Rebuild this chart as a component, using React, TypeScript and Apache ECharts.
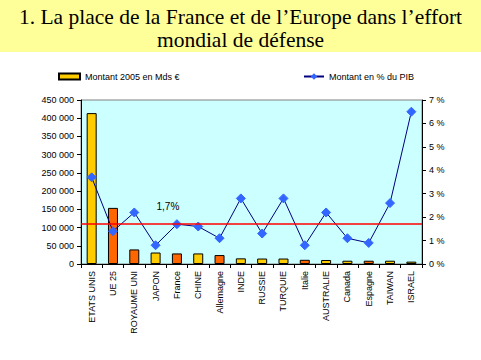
import React, { useEffect, useRef } from "react";
import * as echarts from "echarts";

const categories = [
  "ETATS UNIS", "UE 25", "ROYAUME UNI", "JAPON", "France", "CHINE", "Allemagne", "INDE",
  "RUSSIE", "TURQUIE", "Italie", "AUSTRALIE", "Canada", "Espagne", "TAIWAN", "ISRAEL",
];
const montant2005 = [414000, 154000, 40000, 31500, 29000, 29000, 24500, 15500, 15000, 15000, 11500, 11000, 9000, 9000, 9000, 6500];
const europe = [false, true, true, false, true, false, true, false, false, false, true, false, false, true, false, false];
const pctPIB = [3.7, 1.4, 2.2, 0.8, 1.7, 1.6, 1.1, 2.8, 1.3, 2.8, 0.8, 2.2, 1.1, 0.9, 2.6, 6.5];
const refLine = 1.7;
const refLabel = "1,7%";
const leftTicks = { min: 0, max: 450000, interval: 50000 };
const rightTicks = { min: 0, max: 7, interval: 1 };
const titleLines = ["1. La place de la France et de l\u2019Europe dans l\u2019effort", "mondial de défense"];

export default function App() {
  const ref = useRef<HTMLDivElement>(null);
  useEffect(() => {
    const chart = echarts.init(ref.current!, null, { renderer: "svg" });
    const axisFont = { fontFamily: "Liberation Sans, Arial, sans-serif", fontSize: 9, color: "#000" };
    const titleFont = "21.5px 'Liberation Serif', 'Times New Roman', serif";
    chart.setOption({
      animation: false,
      backgroundColor: "#fff",
      graphic: [
        { type: "rect", shape: { x: 0, y: 0, width: 481, height: 52 }, style: { fill: "#FFFF99" }, z: -1 },
        { type: "text", x: 240.5, y: 17, style: { text: titleLines[0], font: titleFont, fill: "#000", align: "center", verticalAlign: "middle" } },
        { type: "text", x: 240.5, y: 40, style: { text: titleLines[1], font: titleFont, fill: "#000", align: "center", verticalAlign: "middle" } },
      ],
      legend: [
        {
          data: [{ name: "Montant 2005 en Mds €", icon: "rect" }], left: 53, top: 67, itemWidth: 21, itemHeight: 6, itemGap: 4,
          textStyle: { ...axisFont, fontSize: 9 },
        },
        {
          data: ["Montant en % du PIB"], left: 298, top: 67, itemWidth: 20, itemHeight: 8, itemGap: 4,
          textStyle: { ...axisFont, fontSize: 9 },
        },
      ],
      grid: {
        left: 81, right: 59, top: 100, bottom: 96, show: true, backgroundColor: "#CCFFFF",
        borderColor: "#808080", borderWidth: 1,
      },
      xAxis: {
        type: "category",
        data: categories,
        axisLine: { lineStyle: { color: "#000" } },
        axisTick: { show: true, length: 4, lineStyle: { color: "#000" } },
        axisLabel: { ...axisFont, rotate: 90, margin: 7, interval: 0 },
      },
      yAxis: [
        {
          type: "value", min: leftTicks.min, max: leftTicks.max, interval: leftTicks.interval,
          axisLine: { show: true, lineStyle: { color: "#000" } },
          axisTick: { show: true, length: 4, lineStyle: { color: "#000" } },
          splitLine: { show: false },
          axisLabel: {
            ...axisFont, margin: 7,
            formatter: (v: number) => (v === 0 ? "0" : `${Math.floor(v / 1000)} ${String(v % 1000).padStart(3, "0")}`),
          },
        },
        {
          type: "value", min: rightTicks.min, max: rightTicks.max, interval: rightTicks.interval, position: "right",
          axisLine: { show: true, lineStyle: { color: "#000" } },
          axisTick: { show: true, length: 4, lineStyle: { color: "#000" } },
          splitLine: { show: false },
          axisLabel: { ...axisFont, margin: 7, formatter: (v: number) => `${v} %` },
        },
      ],
      series: [
        {
          name: "Montant 2005 en Mds €",
          type: "bar",
          yAxisIndex: 0,
          barWidth: 10,
          itemStyle: { color: "#FFCC00", borderColor: "#000", borderWidth: 1 },
          data: montant2005.map((v, i) => ({
            value: v,
            itemStyle: { color: europe[i] ? "#FF6600" : "#FFCC00", borderColor: "#000", borderWidth: 1 },
          })),
          z: 2,
        },
        {
          name: "Montant en % du PIB",
          type: "line",
          yAxisIndex: 1,
          symbol: "diamond",
          symbolSize: 9,
          lineStyle: { color: "#000080", width: 1 },
          itemStyle: { color: "#3366FF", borderColor: "#3366FF" },
          data: pctPIB.map((v, i) =>
            i === categories.indexOf("France")
              ? { value: v, label: { show: true, formatter: refLabel, position: "top", offset: [-9, -3], ...axisFont, fontSize: 10 } }
              : v
          ),
          markLine: {
            silent: true,
            symbol: "none",
            label: { show: false },
            lineStyle: { color: "#FF0000", width: 1.5, type: "solid" },
            data: [{ yAxis: refLine }],
          },
          z: 3,
        },
      ],
    });
    return () => chart.dispose();
  }, []);
  return <div ref={ref} style={{ position: "fixed", left: 0, top: 0, width: 481, height: 360 }} />;
}
